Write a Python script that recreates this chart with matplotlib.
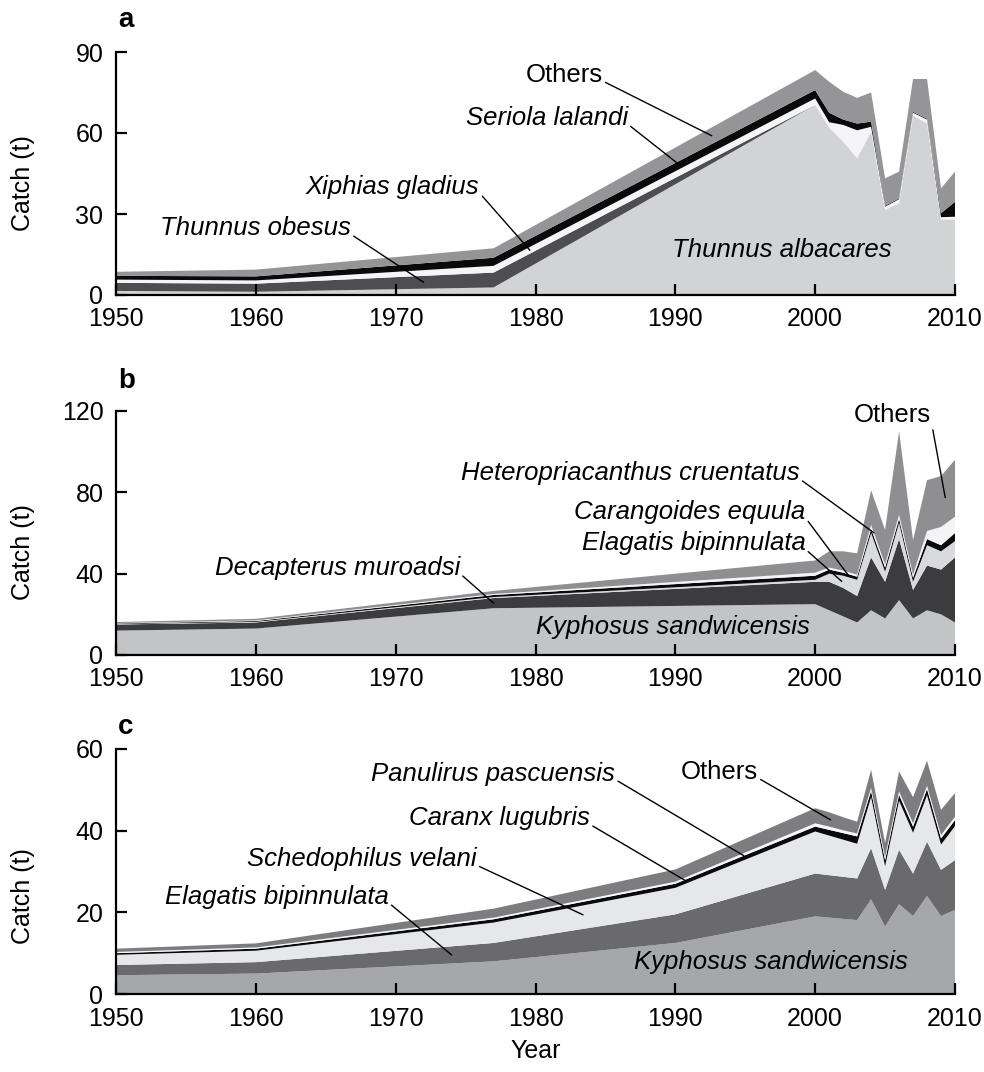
import numpy as np
import matplotlib
matplotlib.use("Agg")
import matplotlib.pyplot as plt

plt.rcParams['font.family'] = ['Liberation Sans', 'DejaVu Sans']

# ---------------- data ----------------
years_a = [1950, 1960, 1977, 2000, 2001, 2002, 2003, 2004, 2005, 2006, 2007, 2008, 2009, 2010]
albacares = [1.5, 1.2, 2.8, 70.4, 62.0, 56.8, 50.7, 60.5, 31.5, 34.0, 66.5, 63.5, 28.0, 28.0]
obesus = [3.0, 3.0, 5.5, 0, 0, 0, 0, 0, 0, 0, 0, 0, 0, 0]
xiphias = [1.2, 1.2, 2.5, 2.4, 2.0, 6.2, 10.3, 1.8, 1.2, 1.5, 1.0, 1.5, 0.8, 1.0]
seriola = [1.4, 1.5, 3.0, 3.1, 3.5, 2.0, 2.5, 1.9, 0.3, 0.3, 0.3, 0.3, 1.5, 5.5]
others_a = [1.5, 2.5, 3.5, 7.4, 11.5, 10.3, 9.5, 10.8, 10.2, 9.9, 12.2, 14.7, 9.2, 11.2]

years_b = [1950, 1960, 1977, 2000, 2001, 2002, 2003, 2004, 2005, 2006, 2007, 2008, 2009, 2010]
kyphosus_b = [12, 13, 23, 25, 22, 19, 16, 22, 18, 27, 18, 22, 20, 16]
decapterus = [3, 3, 5, 11, 14, 14, 13, 26, 18, 30, 14, 22, 22, 32]
elagatis_b = [0.2, 0.3, 0.5, 1, 4, 6, 8, 12, 5, 8, 4, 10, 9, 8]
carangoides = [0.3, 0.4, 1, 2, 2, 1.5, 1.5, 2, 2, 2, 2, 3, 3, 4]
heteropriacanthus = [0.2, 0.3, 0.5, 1.5, 1, 1, 1, 2, 1.5, 2, 1.5, 4, 9, 8]
others_b = [0.5, 0.8, 1.5, 6, 8, 9.5, 10.5, 17, 17, 41, 17, 25, 25, 28]

years_c = [1950, 1960, 1977, 1990, 2000, 2001, 2002, 2003, 2004, 2005, 2006, 2007, 2008, 2009, 2010]
kyphosus_c = [4.6, 5, 8, 12.5, 19, 18.7, 18.4, 18.1, 23.2, 16.5, 22, 19.1, 24, 19.1, 20.6]
elagatis_c = [2.5, 2.8, 4.5, 7, 10.5, 10.4, 10.3, 10.2, 12.5, 9, 13.3, 10.4, 13.3, 11.3, 12.2]
schedophilus = [2.5, 2.8, 5, 6.5, 10.3, 9.7, 9.1, 8.5, 12.5, 5.8, 12, 10, 11.4, 6.2, 8.3]
caranx = [0.4, 0.5, 0.8, 1, 1.2, 1.4, 1.6, 1.8, 1.5, 1.5, 1.5, 1.5, 1.5, 1.5, 1.5]
panulirus = [0.3, 0.3, 0.4, 0.5, 0.8, 0.8, 0.7, 0.7, 0.8, 0.8, 0.8, 0.8, 0.8, 0.8, 0.8]
others_c = [0.8, 1.0, 2.2, 3, 3.7, 3.5, 3.2, 2.9, 4.4, 3.4, 4.9, 6.4, 6.1, 6.2, 5.8]

xticks = [1950, 1960, 1970, 1980, 1990, 2000, 2010]
yticks_a = [0, 30, 60, 90]
yticks_b = [0, 40, 80, 120]
yticks_c = [0, 20, 40, 60]

colors_a = ['#d2d3d5', '#4e4e50', '#f5f5f7', '#0a0a0a', '#959597']
colors_b = ['#c3c4c6', '#3c3c3e', '#d9dadc', '#0a0a0a', '#f3f3f5', '#8f8f91']
colors_c = ['#a6a7a9', '#6a6a6c', '#e6e7e9', '#0a0a0a', '#f7f7f9', '#7d7d7f']

W, H = 984, 1072
fig = plt.figure(figsize=(W / 100, H / 100), dpi=100)

def ax_rect(top_px, bot_px):
    l = 116 / W
    r = 955 / W
    return [l, 1 - bot_px / H, r - l, (bot_px - top_px) / H]

TICK_FS = 18
LAB_FS = 18.5


def setup(ax, yticks, ylab_y):
    ax.set_xlim(1950, 2010)
    ax.set_ylim(0, yticks[-1])
    ax.set_xticks(xticks)
    ax.set_yticks(yticks)
    for s in ['top', 'right']:
        ax.spines[s].set_visible(False)
    for s in ['left', 'bottom']:
        ax.spines[s].set_linewidth(1.6)
        ax.spines[s].set_zorder(5)
    ax.tick_params(direction='in', length=8, width=1.6, labelsize=TICK_FS, pad=9)
    ax.set_ylabel('Catch (t)', fontsize=TICK_FS)
    ax.yaxis.set_label_coords(-0.097, ylab_y)


def stack(ax, years, layers, colors):
    ax.stackplot(years, *layers, colors=colors, linewidth=0)
    cum = np.cumsum(np.array(layers, dtype=float), axis=0)
    return cum


def band_point(years, cum, idx, year, frac=0.5):
    top = np.interp(year, years, cum[idx])
    bot = np.interp(year, years, cum[idx - 1]) if idx > 0 else 0.0
    return (year, bot + frac * (top - bot))


def label(ax, text, xy, xytext, italic=True):
    ax.annotate(text, xy=xy, xytext=xytext, ha='right', va='center',
                fontsize=LAB_FS, fontstyle='italic' if italic else 'normal',
                arrowprops=dict(arrowstyle='-', lw=1.0, color='black',
                                shrinkA=0, shrinkB=0, relpos=(1.0, 0.25)),
                zorder=6)

# ---------------- panel a ----------------
ax1 = fig.add_axes(ax_rect(52, 295))
cum_a = stack(ax1, years_a, [albacares, obesus, xiphias, seriola, others_a], colors_a)
setup(ax1, yticks_a, 0.46)
label(ax1, 'Others', band_point(years_a, cum_a, 4, 1992.6), (1984.8, 81.5), italic=False)
label(ax1, 'Seriola lalandi', band_point(years_a, cum_a, 3, 1990.3), (1986.6, 65.5))
label(ax1, 'Xiphias gladius', band_point(years_a, cum_a, 2, 1979.6), (1976.0, 40.0))
label(ax1, 'Thunnus obesus', band_point(years_a, cum_a, 1, 1972.0), (1966.8, 24.7))
ax1.text(1997.6, 16.7, 'Thunnus albacares', fontsize=LAB_FS, fontstyle='italic',
         ha='center', va='center')

# ---------------- panel b ----------------
ax2 = fig.add_axes(ax_rect(411, 655))
cum_b = stack(ax2, years_b, [kyphosus_b, decapterus, elagatis_b, carangoides,
                              heteropriacanthus, others_b], colors_b)
setup(ax2, yticks_b, 0.42)
label(ax2, 'Others', band_point(years_b, cum_b, 5, 2009.3), (2008.3, 118), italic=False)
label(ax2, 'Heteropriacanthus cruentatus', band_point(years_b, cum_b, 4, 2004.2, 1.0), (1998.9, 89.5))
label(ax2, 'Carangoides equula', band_point(years_b, cum_b, 3, 2002.4), (1999.3, 70.5))
label(ax2, 'Elagatis bipinnulata', band_point(years_b, cum_b, 2, 2001.9), (1999.3, 55.0))
label(ax2, 'Decapterus muroadsi', band_point(years_b, cum_b, 1, 1977.0), (1974.6, 43.0))
ax2.text(1999.6, 14, 'Kyphosus sandwicensis', fontsize=LAB_FS, fontstyle='italic',
         ha='right', va='center')

# ---------------- panel c ----------------
ax3 = fig.add_axes(ax_rect(749, 994))
cum_c = stack(ax3, years_c, [kyphosus_c, elagatis_c, schedophilus, caranx,
                              panulirus, others_c], colors_c)
setup(ax3, yticks_c, 0.40)
label(ax3, 'Others', band_point(years_c, cum_c, 5, 2001.1), (1995.9, 54.4), italic=False)
label(ax3, 'Panulirus pascuensis', band_point(years_c, cum_c, 4, 1994.9, 0.0), (1985.7, 54.0))
label(ax3, 'Caranx lugubris', band_point(years_c, cum_c, 3, 1990.8), (1983.9, 43.0))
label(ax3, 'Schedophilus velani', band_point(years_c, cum_c, 2, 1983.4, 0.6), (1975.8, 33.0))
label(ax3, 'Elagatis bipinnulata', band_point(years_c, cum_c, 1, 1974.0), (1969.5, 23.8))
ax3.text(2006.6, 7.9, 'Kyphosus sandwicensis', fontsize=LAB_FS, fontstyle='italic',
         ha='right', va='center')
ax3.set_xlabel('Year', fontsize=TICK_FS, labelpad=6)

# panel letters
for letter, ypx in [('a', 20), ('b', 381), ('c', 727)]:
    fig.text(118 / W, 1 - ypx / H, letter, fontsize=20, fontweight='bold',
             ha='left', va='center')

fig.savefig('out.png', dpi=100)
